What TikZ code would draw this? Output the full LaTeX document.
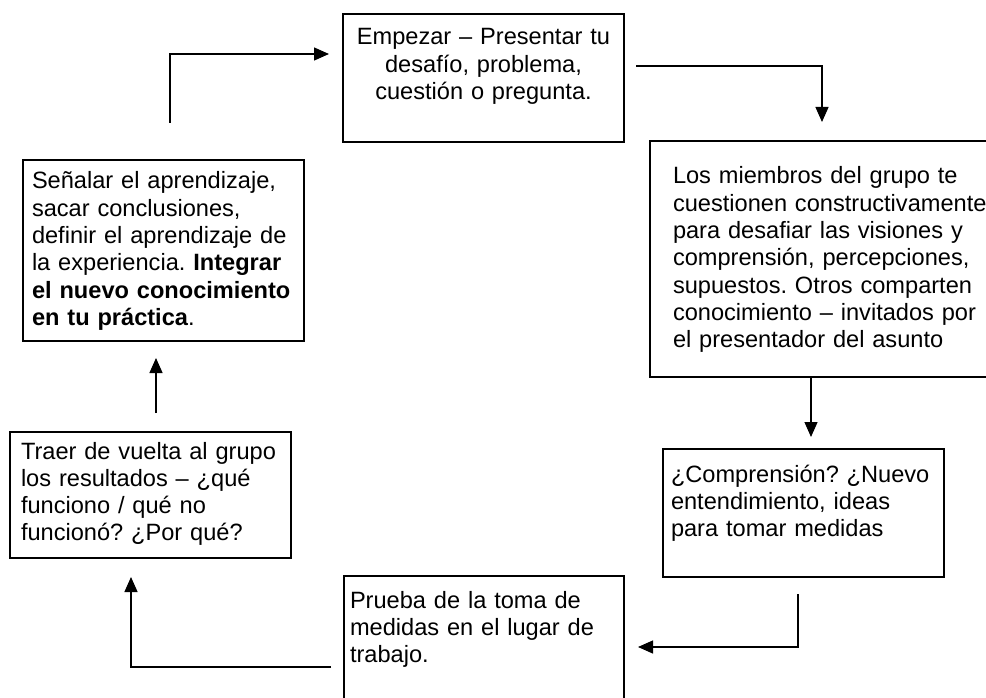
\documentclass[tikz,border=0pt]{standalone}
\usepackage{fontspec}
\setmainfont{Liberation Sans}
\usepackage{tikz}
\usetikzlibrary{arrows.meta}

\begin{document}
\begin{tikzpicture}[x=1pt,y=-1pt,
			box node/.style={draw,line width=1.2pt,anchor=north west,
				inner ysep=0pt,outer sep=0pt,
				font=\fontsize{23.6pt}{27.3pt}\selectfont\frenchspacing},
			flow/.style={line width=1.3pt,-{Triangle[length=15pt,width=13pt]}}]
			
			\useasboundingbox (0,0) rectangle (986,698);
			\clip (0,0) rectangle (986,698);
			
			\node[box node,align=center,text width=261pt,inner xsep=10pt,
				text height=31pt,text depth=97pt] (start) at (343,14)
				{Empezar – Presentar tu\\desafío, problema,\\cuestión o pregunta.};
			\node[box node,align=left,text width=354pt,inner xsep=23pt,
				text height=43pt,text depth=193pt] (group) at (650,141)
				{Los miembros del grupo te\\cuestionen constructivamente\\para desafiar las visiones y\\comprensión, percepciones,\\supuestos. Otros comparten\\conocimiento – invitados por\\el presentador del asunto};
			\node[box node,align=left,text width=265pt,inner xsep=8pt,
				text height=33pt,text depth=95pt] (insight) at (663,449)
				{¿Comprensión? ¿Nuevo\\entendimiento, ideas\\para tomar medidas};
			\node[box node,align=left,text width=268pt,inner xsep=6pt,
				text height=32pt,text depth=108pt] (test) at (344,576)
				{Prueba de la toma de\\medidas en el lugar de\\trabajo.};
			\node[box node,align=left,text width=259pt,inner xsep=11pt,
				text height=27pt,text depth=99pt] (report) at (10,432)
				{Traer de vuelta al grupo\\los resultados – ¿qué\\funciono / qué no\\funcionó? ¿Por qué?};
			\node[box node,align=left,text width=263pt,inner xsep=9pt,
				text height=29pt,text depth=152pt] (reflect) at (23,160)
				{Señalar el aprendizaje,\\sacar conclusiones,\\definir el aprendizaje de\\la experiencia. \textbf{Integrar}\\\textbf{el nuevo conocimiento}\\\textbf{en tu práctica}.};
			
			\draw[flow] ([xshift=6.5pt,yshift=37pt]reflect.north) |- ([xshift=-14pt,yshift=24pt]start.west);
			\draw[flow] ([xshift=12pt,yshift=12pt]start.east) -| ([xshift=172pt,yshift=19pt]group.north west);
			\draw[flow] ([xshift=161pt]group.south west) -- ([xshift=148pt,yshift=12pt]insight.north west);
			\draw[flow] ([xshift=135pt,yshift=-17pt]insight.south west) |- ([xshift=14pt,yshift=-71pt]test.north east);
			\draw[flow] ([xshift=-13pt,yshift=-91pt]test.north west) -| ([xshift=121pt,yshift=-19pt]report.south west);
			\draw[flow] ([xshift=146pt,yshift=19pt]report.north west) -- ([xshift=133pt,yshift=-17pt]reflect.south west);
			
		\end{tikzpicture}
\end{document}
